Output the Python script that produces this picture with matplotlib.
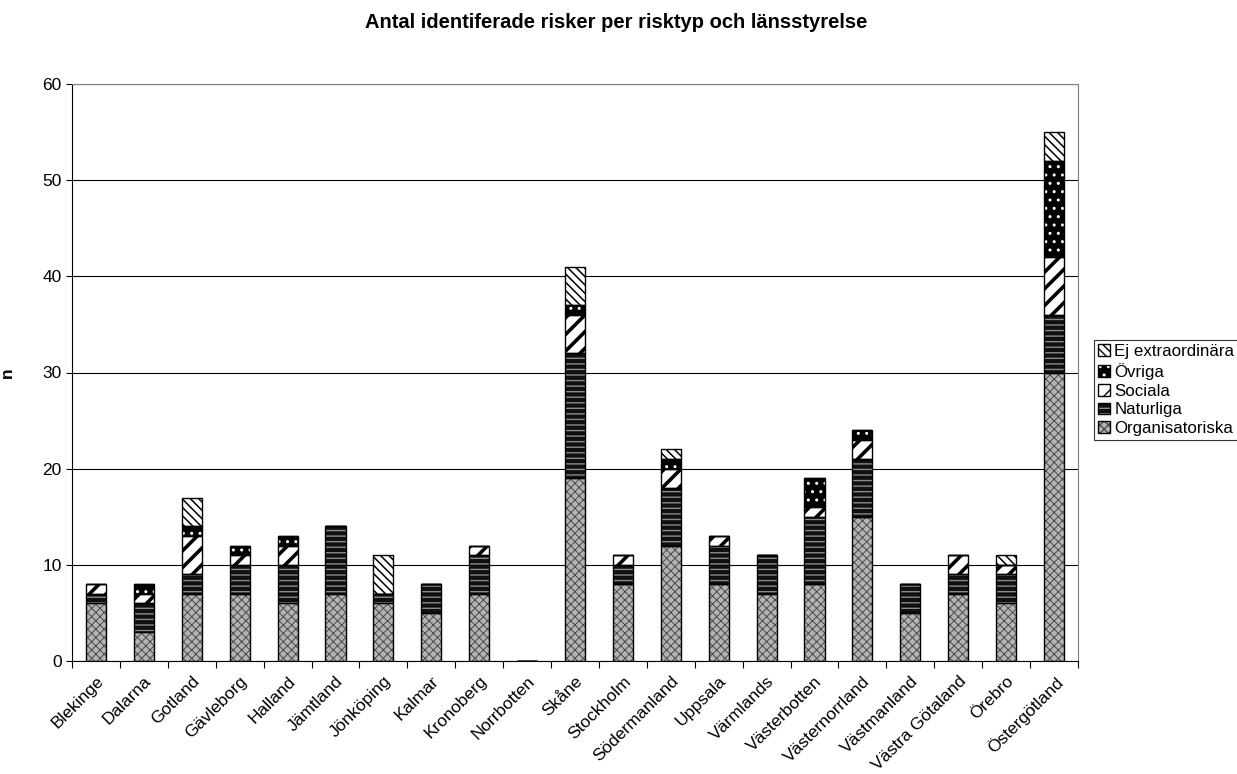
import matplotlib

matplotlib.use('Agg')

import numpy as np
import matplotlib.pyplot as plt
from matplotlib.patches import Patch
from matplotlib.legend_handler import HandlerTuple

# data
counties = ['Blekinge', 'Dalarna', 'Gotland', 'Gävleborg', 'Halland', 'Jämtland',
            'Jönköping', 'Kalmar', 'Kronoberg', 'Norrbotten', 'Skåne', 'Stockholm',
            'Södermanland', 'Uppsala', 'Värmlands', 'Västerbotten', 'Västernorrland',
            'Västmanland', 'Västra Götaland', 'Örebro', 'Östergötland']
organisatoriska = [6, 3, 7, 7, 6, 7, 6, 5, 7, 0, 19, 8, 12, 8, 7, 8, 15, 5, 7, 6, 30]
naturliga = [1, 3, 2, 3, 4, 7, 1, 3, 4, 0, 13, 2, 6, 4, 4, 7, 6, 3, 2, 3, 6]
sociala = [1, 1, 4, 1, 2, 0, 0, 0, 1, 0, 4, 1, 2, 1, 0, 1, 2, 0, 2, 1, 6]
ovriga = [0, 1, 1, 1, 1, 0, 0, 0, 0, 0, 1, 0, 1, 0, 0, 3, 1, 0, 0, 0, 10]
ej_extra = [0, 0, 3, 0, 0, 0, 4, 0, 0, 0, 4, 0, 1, 0, 0, 0, 0, 0, 0, 1, 3]

series_names = ['Organisatoriska', 'Naturliga', 'Sociala', 'Övriga', 'Ej extraordinära']
series_values = [organisatoriska, naturliga, sociala, ovriga, ej_extra]

# face colour, hatch colour, hatch, hatch linewidth
styles = [('#b4b4b4', '#4a4a4a', 'xxxx', 0.7),
          ('#101010', '#8a8a8a', '---', 1.0),
          ('#ffffff', '#000000', '//', 2.6),
          ('#000000', '#ffffff', '..', 1.0),
          ('#ffffff', '#000000', '\\\\\\\\', 1.1)]

plt.rcParams['font.family'] = ['Liberation Sans', 'DejaVu Sans']

fig = plt.figure(figsize=(12.37, 7.74), dpi=100)
ax = fig.add_axes([72 / 1237, 113 / 774, (1078 - 72) / 1237, (661 - 84) / 774])

x = np.arange(len(counties))
width = 0.42
bottom = np.zeros(len(counties))
handles = []
for name, vals, (fc, hc, hatch, hlw) in zip(series_names, series_values, styles):
    vals = np.array(vals, dtype=float)
    with plt.rc_context({'hatch.linewidth': hlw}):
        ax.bar(x, vals, width, bottom=bottom, facecolor=fc, edgecolor=hc,
               hatch=hatch, linewidth=0, zorder=2)
        ax.bar(x, vals, width, bottom=bottom, fill=False, edgecolor='black',
               linewidth=1.0, zorder=3)
        fill_h = Patch(facecolor=fc, edgecolor=hc, hatch=hatch, linewidth=0)
    outline_h = Patch(fill=False, edgecolor='black', linewidth=1.0)
    handles.append((fill_h, outline_h))
    bottom += vals

ax.set_xlim(-0.5, len(counties) - 0.5)
ax.set_ylim(0, 60)
ax.set_yticks(np.arange(0, 61, 10))
ax.yaxis.grid(True, color='black', linewidth=0.8, zorder=0)
ax.set_axisbelow(True)

ax.set_xticks(x)
ax.set_xticklabels(counties, rotation=45, ha='right', rotation_mode='anchor',
                   fontsize=12.5)
ax.tick_params(axis='x', which='major', length=0, pad=9)
ax.set_xticks(np.arange(-0.5, len(counties), 1), minor=True)
ax.tick_params(axis='x', which='minor', length=5, direction='out', width=0.8)
ax.tick_params(axis='y', labelsize=12.5, length=4, width=0.8, direction='out')

for side in ['top', 'right']:
    ax.spines[side].set_color('#808080')
for side in ['left', 'bottom']:
    ax.spines[side].set_color('black')

ax.set_ylabel('n', fontsize=12.5, fontweight='bold')
ax.yaxis.set_label_coords(-57 / 1006, 0.5)

fig.text(616 / 1237, 1 - 22 / 774, 'Antal identiferade risker per risktyp och länsstyrelse',
         ha='center', va='center', fontsize=14.5, fontweight='bold')

leg = fig.legend(handles[::-1], series_names[::-1],
                 handler_map={tuple: HandlerTuple(ndivide=1, pad=0)},
                 loc='upper left', bbox_to_anchor=(1094 / 1237, 1 - 340 / 774),
                 fontsize=12.2, handlelength=0.7, handleheight=0.7,
                 handletextpad=0.25, labelspacing=0.22, borderpad=0.25,
                 frameon=True, fancybox=False, shadow=False, borderaxespad=0)
leg.get_frame().set_edgecolor('black')
leg.get_frame().set_linewidth(0.8)

plt.savefig('out.png', dpi=100)
